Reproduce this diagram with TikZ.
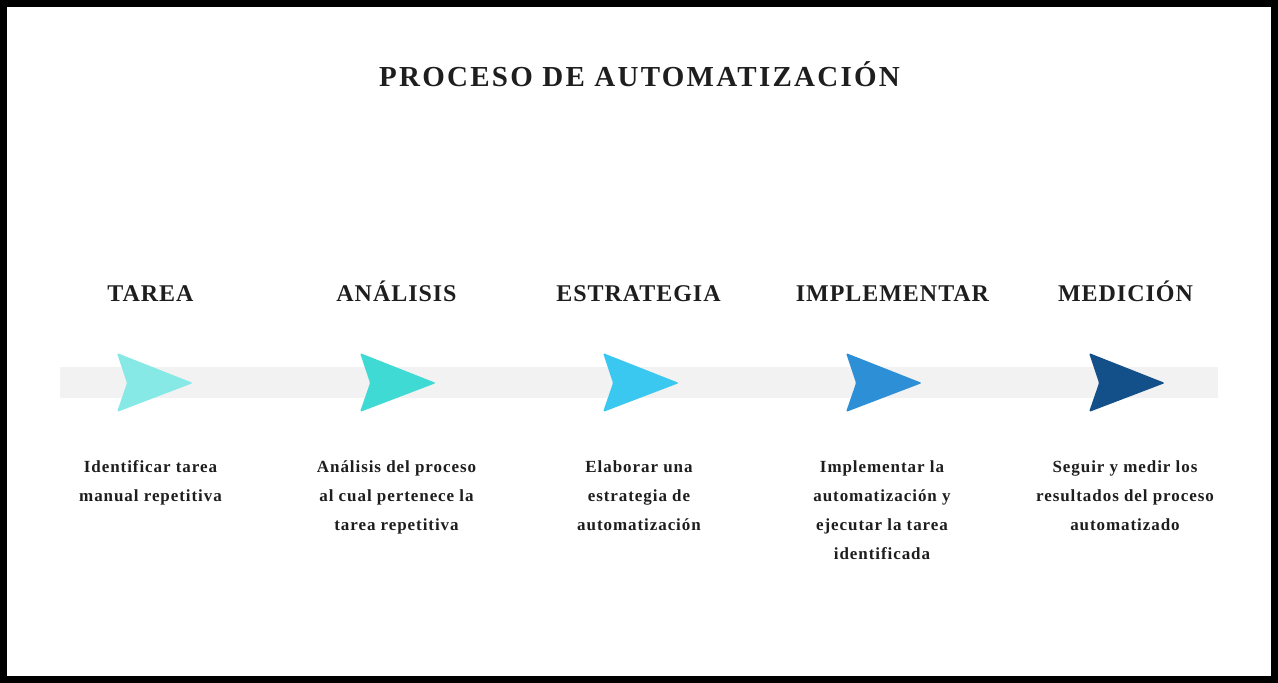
\documentclass[tikz,border=0pt]{standalone}
\usepackage{fontspec}
\setmainfont{Liberation Serif}
\newfontfamily\titulofont[LetterSpace=7.8]{Liberation Serif}
\newfontfamily\etapafont[LetterSpace=4]{Liberation Serif}
\newfontfamily\textofont[LetterSpace=5.5]{Liberation Serif}

\definecolor{tinta}{HTML}{1E1E1E}
\definecolor{banda}{HTML}{F2F2F2}
\definecolor{flechaA}{HTML}{87E9E6}
\definecolor{flechaB}{HTML}{40DAD5}
\definecolor{flechaC}{HTML}{3AC7F0}
\definecolor{flechaD}{HTML}{2D8FD5}
\definecolor{flechaE}{HTML}{134F88}

\tikzset{
	titulo/.style={anchor=base, inner sep=0pt, text=tinta, font=\titulofont\bfseries\fontsize{29}{34}\selectfont},
	etapa/.style={anchor=base, inner sep=0pt, text=tinta, font=\etapafont\bfseries\fontsize{24}{28}\selectfont},
	texto/.style={anchor=base, inner sep=0pt, align=center, text=tinta, font=\textofont\bfseries\fontsize{17}{29}\selectfont},
	flecha/.style={rounded corners=1.5pt}
}

\begin{document}
\begin{tikzpicture}[x=1pt,y=-1pt]

		\begin{scope}
			\fill[black] (0,0) rectangle (1278,683);
			\fill[white] (7,7) rectangle (1271,676);
		\end{scope}

		\node[titulo] (titulo) at (639.5,86) {PROCESO DE AUTOMATIZACIÓN};

		\fill[banda] (60,367) rectangle (1218,398); %Banda

			\fill[flecha, flechaA] (117,353) -- (193,383) -- (117,412) -- (127,383) -- cycle;
			\fill[flecha, flechaB] (360,353) -- (436,383) -- (360,412) -- (370,383) -- cycle;
			\fill[flecha, flechaC] (603,353) -- (679,383) -- (603,412) -- (613,383) -- cycle;
			\fill[flecha, flechaD] (846,353) -- (922,383) -- (846,412) -- (856,383) -- cycle;
			\fill[flecha, flechaE] (1089,353) -- (1165,383) -- (1089,412) -- (1099,383) -- cycle;

		\node[etapa] (tarea) at (150.5,301) {TAREA}; %Etapa
		\node[etapa] (analisis) at (396.5,301) {ANÁLISIS}; %Etapa
		\node[etapa] (estrategia) at (638.5,301) {ESTRATEGIA}; %Etapa
		\node[etapa] (implementar) at (892.5,301) {IMPLEMENTAR}; %Etapa
		\node[etapa] (medicion) at (1125.5,301) {MEDICIÓN}; %Etapa

		% base = ultima linea
		\node[texto] (texto1) at (150.5,501) {Identificar tarea\\manual repetitiva};
		\node[texto] (texto2) at (396.5,530) {Análisis del proceso\\al cual pertenece la\\tarea repetitiva};
		\node[texto] (texto3) at (639,530) {Elaborar una\\estrategia de\\automatización};
		\node[texto] (texto4) at (882,559) {Implementar la\\automatización y\\ejecutar la tarea\\identificada};
		\node[texto] (texto5) at (1125,530) {Seguir y medir los\\resultados del proceso\\automatizado};

	\end{tikzpicture}
\end{document}
